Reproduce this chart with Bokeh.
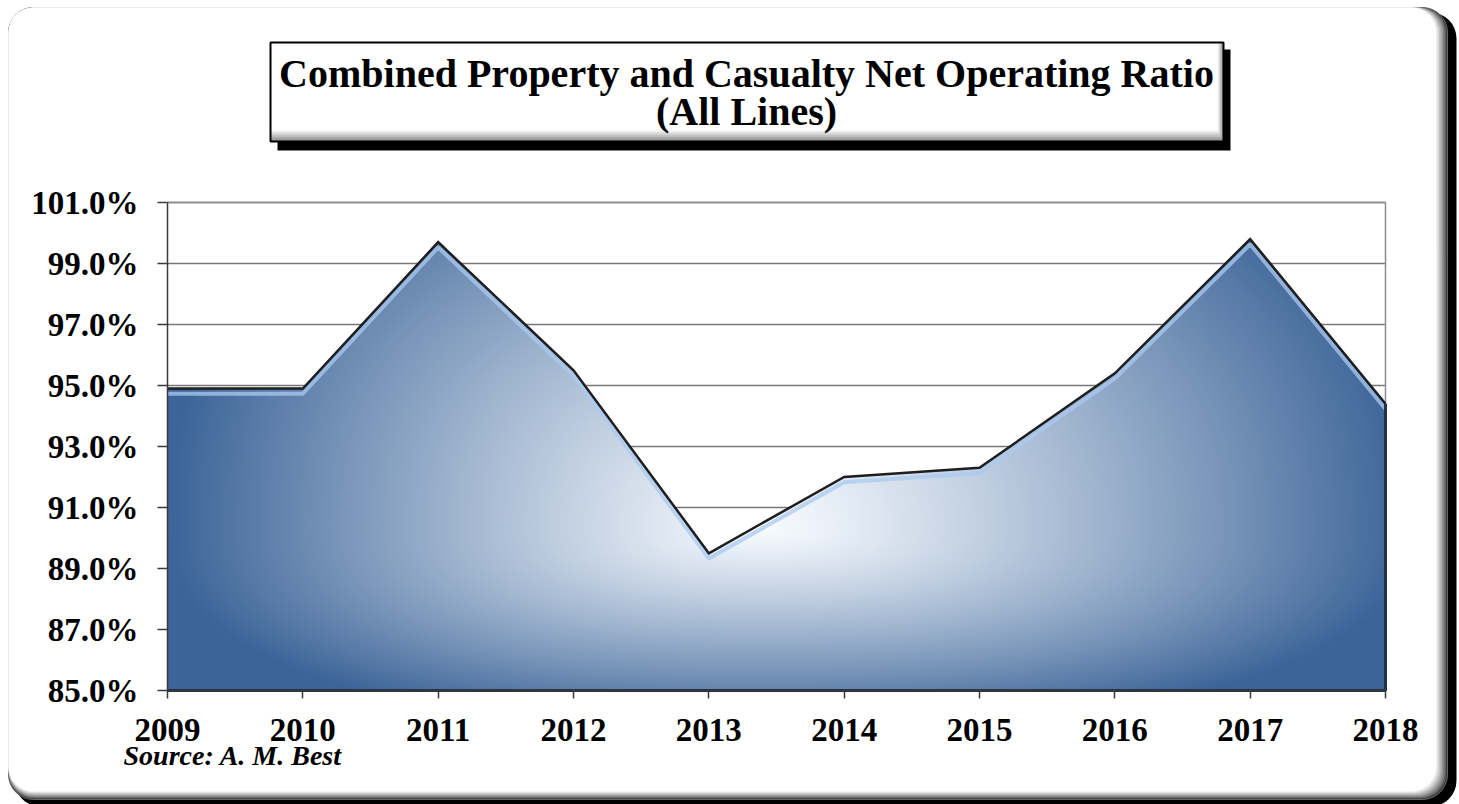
import numpy as np
from bokeh.plotting import figure
from bokeh.models import Range1d, FixedTicker, BoxAnnotation, Label
from bokeh.embed import file_html
from bokeh.resources import INLINE

# ---------------- data ----------------
years = [2009, 2010, 2011, 2012, 2013, 2014, 2015, 2016, 2017, 2018]
ratios = [94.9, 94.9, 99.7, 95.5, 89.5, 92.0, 92.3, 95.4, 99.8, 94.4]
y_ticks = [85, 87, 89, 91, 93, 95, 97, 99, 101]
y_tick_labels = ["85.0%", "87.0%", "89.0%", "91.0%", "93.0%", "95.0%", "97.0%", "99.0%", "101.0%"]
x_tick_labels = ["2009", "2010", "2011", "2012", "2013", "2014", "2015", "2016", "2017", "2018"]
title_lines = ["Combined Property and Casualty Net Operating Ratio", "(All Lines)"]
source_text = "Source: A. M. Best"

# ---------------- layout (pixels) ----------------
W, H = 1459, 804
PL, PR, PT, PB = 167, 1385, 202, 690          # plot-area box on the canvas
FONT = "Liberation Serif"

x0, x1 = years[0], years[-1]
y0, y1 = y_ticks[0], y_ticks[-1]
sx = (x1 - x0) / (PR - PL)                      # data units per pixel
sy = (y1 - y0) / (PB - PT)

p = figure(width=W, height=H, output_backend="svg", toolbar_location=None,
           x_range=Range1d(x0 - PL * sx, x1 + (W - PR) * sx),
           y_range=Range1d(y0 - (H - PB) * sy, y1 + PT * sy),
           min_border=0, min_border_left=0, min_border_right=0,
           min_border_top=0, min_border_bottom=0)
p.background_fill_color = "white"
p.border_fill_color = "white"
p.outline_line_color = None
p.xgrid.grid_line_color = None
p.ygrid.grid_line_color = None


def cbox(l, t, r, b, fill, line=None, lw=1.0, radius=0, level="image"):
    return BoxAnnotation(left=l, right=r, top=t, bottom=b,
                         left_units="canvas", right_units="canvas",
                         top_units="canvas", bottom_units="canvas",
                         fill_color=fill, fill_alpha=1.0 if fill else 0.0,
                         line_color=line, line_alpha=1.0, line_width=lw,
                         border_radius=radius, level=level)


def lerp_hex(c0, c1, t):
    a = np.array([int(c0[i:i + 2], 16) for i in (1, 3, 5)], float)
    b = np.array([int(c1[i:i + 2], 16) for i in (1, 3, 5)], float)
    c = a + (b - a) * t
    return "#%02x%02x%02x" % tuple(int(round(v)) for v in c)


# ---------------- outer rounded frame with shadow ----------------
p.add_layout(cbox(14, 12, 1456, 806, "#000000", radius=26))
N = 9
for k in range(N):
    t = k / (N - 1)
    col = lerp_hex("#3a3a3a", "#ffffff", t ** 0.8)
    p.add_layout(cbox(8, 7, 1447 - k * 1.4, 799 - k * 1.0, col,
                      line="#666666" if k == 0 else None, radius=25))

# ---------------- grid lines (behind the area) ----------------
p.segment(x0=[x0] * len(y_ticks), x1=[x1] * len(y_ticks), y0=y_ticks, y1=y_ticks,
          line_color="#777777", line_width=1.3)

# ---------------- gradient-filled area (image) ----------------
nx, ny = PR - PL, PB - PT
xs = x0 + (np.arange(nx) + 0.5) / nx * (x1 - x0)
ys = y0 + (np.arange(ny) + 0.5) / ny * (y1 - y0)
X, Y = np.meshgrid(xs, ys)
top = np.interp(xs, years, ratios)[None, :]
alpha = np.clip((top - Y) / sy + 0.5, 0, 1)

cx, cy = 2013.4, 90.3
rxs = np.where(X < cx, 4.4, 4.8)
rys = np.where(Y < cy, 6.6, 14.0)
pe = 2.4
d = (np.abs((X - cx) / rxs) ** pe + np.abs((Y - cy) / rys) ** pe) ** (1 / pe)
s = np.clip(d, 0, 1) ** 1.15
blue = np.array([60, 100, 152], float)
white = np.array([247, 251, 255], float)
rgb = white[None, None, :] * (1 - s[..., None]) + blue[None, None, :] * s[..., None]
img = np.zeros((ny, nx, 4), dtype=np.uint8)
img[..., :3] = np.clip(rgb, 0, 255).astype(np.uint8)
img[..., 3] = (alpha * 255).astype(np.uint8)
img32 = img.view(dtype=np.uint32).reshape((ny, nx))
p.image_rgba(image=[img32], x=x0, y=y0, dw=x1 - x0, dh=y1 - y0)

# bevel highlight, outline, dark bottom/right edges, plot-area border
p.line([x1, x1, x0], [y0, y1, y1], line_color="#8c8c8c", line_width=1.5)
p.line(years, [v - 0.17 for v in ratios], line_color="#a9caf0", line_width=4, line_alpha=0.75)
p.line(years, ratios, line_color="#1e1e1e", line_width=2.5, line_join="miter")
p.line([x0, x1, x1], [y0, y0, ratios[-1]], line_color="#22324a", line_width=3)

# ---------------- axes (fixed at the plot-area edges) ----------------
p.yaxis.fixed_location = x0
p.yaxis.bounds = (y0, y1)
p.xaxis.fixed_location = y0
p.xaxis.bounds = (x0, x1)
p.yaxis.ticker = FixedTicker(ticks=y_ticks)
p.yaxis.major_label_overrides = dict(zip(y_ticks, y_tick_labels))
p.xaxis.ticker = FixedTicker(ticks=years)
p.xaxis.major_label_overrides = dict(zip(years, x_tick_labels))

for ax in (p.xaxis, p.yaxis):
    ax.axis_line_color = "#3a3a3a"
    ax.axis_line_width = 1.5
    ax.major_tick_line_color = "#3a3a3a"
    ax.major_tick_line_width = 1.5
    ax.major_tick_in = 0
    ax.minor_tick_line_color = None
    ax.major_label_text_font = FONT
    ax.major_label_text_font_style = "bold"
    ax.major_label_text_font_size = "33px"
    ax.major_label_text_color = "black"
p.yaxis.major_tick_out = 10
p.yaxis.major_label_standoff = 19
p.xaxis.major_tick_out = 8
p.xaxis.major_label_standoff = 20

# ---------------- title box ----------------
p.add_layout(cbox(277, 49, 1230, 150, "#000000", level="annotation"))
M = 8
for k in range(M):
    t = k / (M - 1)
    col = lerp_hex("#8a8a8a", "#ffffff", t ** 0.9)
    p.add_layout(cbox(270, 42, 1223 - k * 0.8, 141 - k * 1.6, col, level="annotation"))
p.add_layout(cbox(270, 42, 1223, 141, None, line="#000000", lw=2, level="annotation"))

for txt, yb in zip(title_lines, (73, 111)):
    p.add_layout(Label(x=746, y=yb, x_units="canvas", y_units="canvas", text=txt,
                       text_align="center", text_baseline="alphabetic",
                       text_font=FONT, text_font_style="bold",
                       text_font_size="40px", text_color="black"))

p.add_layout(Label(x=123, y=755, x_units="canvas", y_units="canvas", text=source_text,
                   text_align="left", text_baseline="alphabetic",
                   text_font=FONT, text_font_style="bold italic",
                   text_font_size="28px", text_color="black"))

open("out.html", "w").write(file_html(p, INLINE))
